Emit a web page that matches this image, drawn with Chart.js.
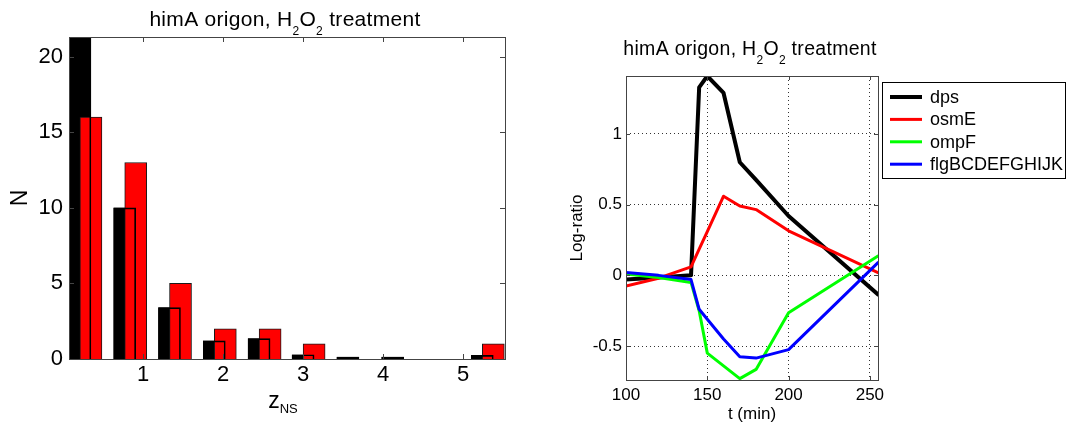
<!DOCTYPE html>
<html>
<head>
<meta charset="utf-8">
<script src="https://cdn.jsdelivr.net/npm/chart.js@4"></script>
<style>
  html, body { margin: 0; padding: 0; background: #fff; }
  #wrap { position: relative; width: 1066px; height: 423px; }
  #histBox { position: absolute; left: 0; top: 0; width: 530px; height: 423px; }
  #lineBox { position: absolute; left: 530px; top: 0; width: 536px; height: 423px; }
</style>
</head>
<body>
<div id="wrap">
  <div id="histBox"><canvas id="histChart"></canvas></div>
  <div id="lineBox"><canvas id="lineChart"></canvas></div>
</div>
<script>
// left panel: histogram of z_NS (black = expected, red = observed)
const binCenters = [0.28, 0.84, 1.40, 1.96, 2.52, 3.07, 3.63, 4.19, 4.75, 5.31];
const countsBlack = [24, 10, 3.4, 1.2, 1.35, 0.28, 0.13, 0.13, 0, 0.24];
const countsRed = [16, 13, 5, 2, 2, 1, 0, 0, 0, 1];
const histXTicks = [1, 2, 3, 4, 5];
const histYTicks = [0, 5, 10, 15, 20];

// right panel: log-ratio time courses
const times = [100, 120, 140, 145, 150, 160, 170, 180, 200, 255];
const dps = [-0.03, -0.015, 0.0, 1.33, 1.41, 1.29, 0.80, 0.675, 0.42, -0.135];
const osmE = [-0.075, -0.02, 0.06, 0.185, 0.31, 0.56, 0.49, 0.465, 0.315, 0.02];
const ompF = [0.01, -0.015, -0.05, -0.25, -0.55, -0.64, -0.73, -0.665, -0.265, 0.137];
const flg = [0.02, 0.0, -0.03, -0.24, -0.31, -0.45, -0.575, -0.585, -0.525, 0.09];
const lineXTicks = [100, 150, 200, 250];
const lineYTicks = [-0.5, 0, 0.5, 1];

const FONT = '"Liberation Sans", Arial, sans-serif';
Chart.defaults.font.family = FONT;
Chart.defaults.color = '#000';

const pts = (xs, ys) => xs.map((x, i) => ({x: x, y: ys[i]}));

// box round the axes with inward tick marks, like matlab
const matlabBox = {
  id: 'matlabBox',
  afterDraw(chart, args, opts) {
    const {ctx, chartArea: a, scales} = chart;
    const len = opts.tickLen;
    ctx.save();
    ctx.strokeStyle = '#444';
    ctx.lineWidth = 1;
    ctx.beginPath();
    scales.x.ticks.forEach(t => {
      const px = Math.round(scales.x.getPixelForValue(t.value)) + 0.5;
      ctx.moveTo(px, a.bottom); ctx.lineTo(px, a.bottom - len);
      ctx.moveTo(px, a.top); ctx.lineTo(px, a.top + len);
    });
    scales.y.ticks.forEach(t => {
      const py = Math.round(scales.y.getPixelForValue(t.value)) + 0.5;
      ctx.moveTo(a.left, py); ctx.lineTo(a.left + len, py);
      ctx.moveTo(a.right, py); ctx.lineTo(a.right - len, py);
    });
    ctx.stroke();
    ctx.strokeRect(Math.round(a.left) + 0.5, Math.round(a.top) + 0.5,
      Math.round(a.right - a.left), Math.round(a.bottom - a.top));
    ctx.restore();
  }
};

// text with subscripts (titles and z_NS)
function drawRich(ctx, parts, cx, y, spacing) {
  ctx.save();
  ctx.letterSpacing = spacing + 'px';
  ctx.textAlign = 'left';
  ctx.textBaseline = 'alphabetic';
  ctx.fillStyle = '#000';
  let total = 0;
  parts.forEach(p => {
    ctx.font = p.size + 'px ' + FONT;
    p.w = ctx.measureText(p.text).width;
    total += p.w;
  });
  let x = cx - total / 2;
  parts.forEach(p => {
    ctx.font = p.size + 'px ' + FONT;
    ctx.fillText(p.text, x, y + p.dy);
    x += p.w;
  });
  ctx.restore();
}

function titleParts(main, sub, dy) {
  return [
    {text: 'himA origon, H', size: main, dy: 0},
    {text: '2', size: sub, dy: dy},
    {text: 'O', size: main, dy: 0},
    {text: '2', size: sub, dy: dy},
    {text: ' treatment', size: main, dy: 0}
  ];
}

const richText = {
  id: 'richText',
  afterDraw(chart, args, opts) {
    const a = chart.chartArea;
    const cx = (a.left + a.right) / 2;
    opts.items.forEach(it => drawRich(chart.ctx, it.parts, cx + it.dx, it.y, it.spacing));
  }
};

// legend with a frame, as in the matlab figure
const boxLegend = {
  id: 'boxLegend',
  afterDraw(chart, args, opts) {
    const ctx = chart.ctx;
    ctx.save();
    ctx.fillStyle = '#fff';
    ctx.fillRect(opts.x, opts.y, opts.w, opts.h);
    ctx.strokeStyle = '#000';
    ctx.lineWidth = 1;
    ctx.strokeRect(opts.x + 0.5, opts.y + 0.5, opts.w - 1, opts.h - 1);
    ctx.font = opts.fontSize + 'px ' + FONT;
    ctx.textBaseline = 'middle';
    ctx.textAlign = 'left';
    chart.data.datasets.forEach((ds, i) => {
      const y = opts.y + opts.first + i * opts.step;
      ctx.strokeStyle = ds.borderColor;
      ctx.lineWidth = ds.borderWidth;
      ctx.beginPath();
      ctx.moveTo(opts.x + 8, y);
      ctx.lineTo(opts.x + 40, y);
      ctx.stroke();
      ctx.fillStyle = '#000';
      ctx.fillText(ds.label, opts.x + 48, y + 1);
    });
    ctx.restore();
  }
};

const barShift = 0.069;

new Chart(document.getElementById('histChart'), {
  type: 'bar',
  data: {
    datasets: [
      {
        label: 'expected (edge)',
        data: pts(binCenters.map(c => c - barShift), countsBlack),
        backgroundColor: 'rgba(0,0,0,0)',
        borderColor: '#000',
        borderWidth: 1,
        barThickness: 22,
        order: 0
      },
      {
        label: 'observed',
        data: pts(binCenters.map(c => c + barShift), countsRed),
        backgroundColor: '#ff0000',
        borderColor: '#1a1a1a',
        borderWidth: 1,
        barThickness: 22,
        order: 1
      },
      {
        label: 'expected',
        data: pts(binCenters.map(c => c - barShift), countsBlack),
        backgroundColor: '#000',
        borderColor: '#000',
        borderWidth: 1,
        barThickness: 22,
        order: 2
      }
    ]
  },
  options: {
    responsive: true,
    maintainAspectRatio: false,
    animation: false,
    layout: { padding: { left: 0, top: 37, right: 25, bottom: 0 } },
    datasets: { bar: { grouped: false } },
    plugins: {
      legend: { display: false },
      tooltip: { enabled: false },
      matlabBox: { tickLen: 5 },
      richText: {
        items: [
          { parts: titleParts(21, 12, 9), dx: -2, y: 26, spacing: 0.3 },
          { parts: [{text: 'z', size: 23, dy: 0}, {text: 'NS', size: 13, dy: 5}], dx: -4, y: 408, spacing: 0 }
        ]
      }
    },
    scales: {
      x: {
        type: 'linear',
        min: 0.075,
        max: 5.525,
        offset: false,
        grid: { display: false, drawTicks: false, offset: false },
        border: { display: false },
        ticks: { font: { size: 22 }, padding: 3, maxRotation: 0, callback: v => String(v) },
        afterBuildTicks: s => { s.ticks = histXTicks.map(v => ({value: v})); },
        afterFit: s => { s.height = 64; }
      },
      y: {
        min: 0,
        max: 21.3,
        grid: { display: false, drawTicks: false },
        border: { display: false },
        ticks: { font: { size: 22 }, padding: 6, callback: v => String(v) },
        afterBuildTicks: s => { s.ticks = histYTicks.map(v => ({value: v})); },
        title: { display: true, text: 'N', font: { size: 23, lineHeight: 1 }, padding: { top: 9.5, bottom: 0 } },
        afterFit: s => { s.width = 69; }
      }
    }
  },
  plugins: [matlabBox, richText]
});

new Chart(document.getElementById('lineChart'), {
  type: 'line',
  data: {
    datasets: [
      { label: 'dps', data: pts(times, dps), borderColor: '#000000', borderWidth: 4, order: 3 },
      { label: 'osmE', data: pts(times, osmE), borderColor: '#ff0000', borderWidth: 3, order: 2 },
      { label: 'ompF', data: pts(times, ompF), borderColor: '#00ff00', borderWidth: 3, order: 1 },
      { label: 'flgBCDEFGHIJK', data: pts(times, flg), borderColor: '#0000ff', borderWidth: 3, order: 0 }
    ]
  },
  options: {
    responsive: true,
    maintainAspectRatio: false,
    animation: false,
    layout: { padding: { left: 0, top: 76, right: 188, bottom: 0 } },
    elements: { point: { radius: 0 }, line: { tension: 0, borderCapStyle: 'round', borderJoinStyle: 'round' } },
    plugins: {
      legend: { display: false },
      tooltip: { enabled: false },
      matlabBox: { tickLen: 4 },
      richText: {
        items: [ { parts: titleParts(19.5, 12, 9), dx: -2, y: 55, spacing: 0.3 } ]
      },
      boxLegend: { x: 352, y: 82, w: 184, h: 97, first: 15, step: 22.4, fontSize: 18 }
    },
    scales: {
      x: {
        type: 'linear',
        min: 100,
        max: 255,
        grid: { color: '#333', lineWidth: 1, drawTicks: false },
        border: { display: false, dash: [1, 3] },
        ticks: { font: { size: 17 }, padding: 5, maxRotation: 0, callback: v => String(v) },
        afterBuildTicks: s => { s.ticks = lineXTicks.map(v => ({value: v})); },
        title: { display: true, text: 't (min)', font: { size: 17, lineHeight: 1 }, padding: { top: 0, bottom: 0 } },
        afterFit: s => { s.height = 43; }
      },
      y: {
        min: -0.74,
        max: 1.41,
        grid: { color: '#333', lineWidth: 1, drawTicks: false },
        border: { display: false, dash: [1, 3] },
        ticks: { font: { size: 17 }, padding: 4, callback: v => String(v) },
        afterBuildTicks: s => { s.ticks = lineYTicks.map(v => ({value: v})); },
        title: { display: true, text: 'Log-ratio', font: { size: 17, lineHeight: 1 }, padding: { top: 38.5, bottom: 0 } },
        afterFit: s => { s.width = 96; }
      }
    }
  },
  plugins: [matlabBox, richText, boxLegend]
});
</script>
</body>
</html>
